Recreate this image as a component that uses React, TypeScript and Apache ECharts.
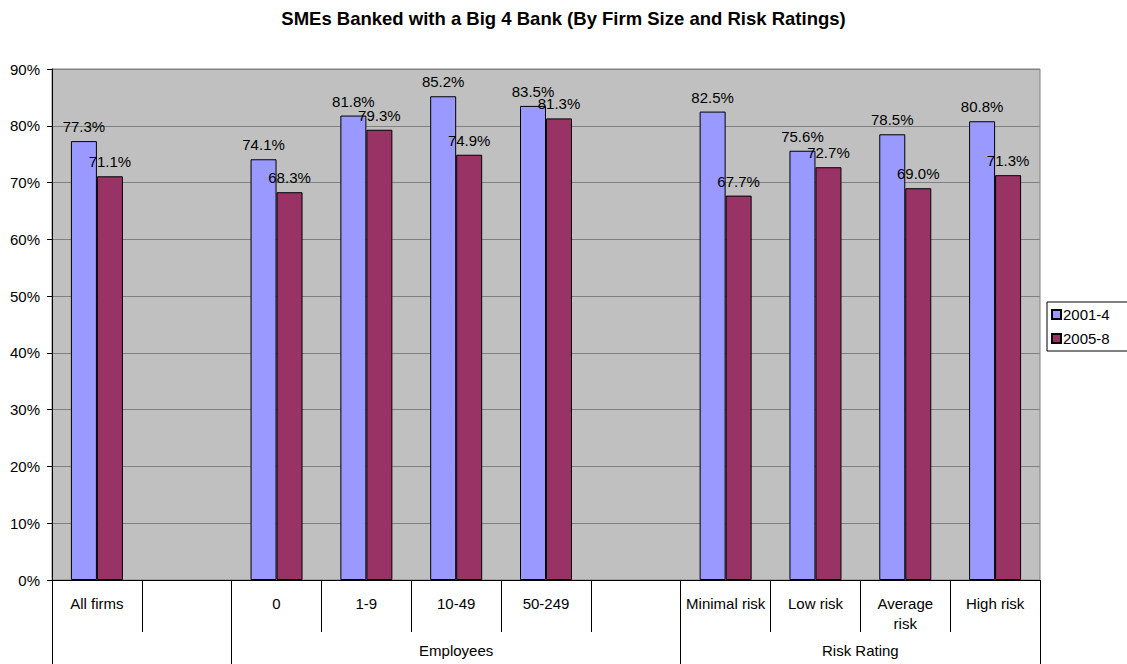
import React, { useEffect, useRef } from "react";
import * as echarts from "echarts";

const categories = ["All firms", "", "0", "1-9", "10-49", "50-249", "", "Minimal risk", "Low risk", "Average risk", "High risk"];
const series2001 = [77.3, null, 74.1, 81.8, 85.2, 83.5, null, 82.5, 75.6, 78.5, 80.8];
const series2005 = [71.1, null, 68.3, 79.3, 74.9, 81.3, null, 67.7, 72.7, 69.0, 71.3];
const groupNames = ["Employees", "Risk Rating"];
const groupCenters = [4.5, 9];
const groupBounds = [0, 2, 7, 11];
const yTicks = [0, 10, 20, 30, 40, 50, 60, 70, 80, 90];

const FONT = "'Liberation Sans', Arial, sans-serif";
const FS = 15;

export default function App() {
  const ref = useRef<HTMLDivElement>(null);
  useEffect(() => {
    const chart = echarts.init(ref.current!, null, { renderer: "svg" });
    const labelCfg = {
      show: true,
      position: "top",
      distance: 7,
      color: "#000",
      fontSize: FS,
      fontFamily: FONT,
      formatter: (p: any) => p.value.toFixed(1) + "%",
    };
    chart.setOption({
      animation: false,
      textStyle: { fontFamily: FONT },
      title: {
        text: "SMEs Banked with a Big 4 Bank (By Firm Size and Risk Ratings)",
        left: "center",
        top: 4,
        textStyle: { fontSize: 18.5, fontWeight: "bold", color: "#000", fontFamily: FONT },
      },
      legend: {
        orient: "vertical",
        left: 1047,
        top: 302,
        padding: [5, 20, 5, 4],
        itemGap: 9,
        itemWidth: 9,
        itemHeight: 9,
        icon: "rect",
        borderColor: "#000",
        borderWidth: 1,
        textStyle: { fontSize: FS, color: "#000", fontFamily: FONT, padding: [0, 0, 0, -3] },
        data: ["2001-4", "2005-8"],
      },
      grid: {
        left: 52,
        right: 87,
        top: 69,
        bottom: 84,
        show: true,
        backgroundColor: "#C0C0C0",
        borderColor: "#808080",
        borderWidth: 1,
      },
      xAxis: [
        {
          type: "category",
          data: categories,
          boundaryGap: true,
          axisLine: { lineStyle: { color: "#000", width: 1 } },
          axisTick: { show: true, interval: 0, length: 52, lineStyle: { color: "#000" } },
          axisLabel: {
            interval: 0,
            margin: 13,
            color: "#000",
            fontSize: FS,
            lineHeight: 20,
            fontFamily: FONT,
            formatter: (v: string) => (v === "Average risk" ? "Average\nrisk" : v),
          },
        },
        {
          type: "value",
          min: 0,
          max: 11,
          position: "bottom",
          axisLine: { show: false },
          splitLine: { show: false },
          axisTick: { show: true, length: 84, customValues: groupBounds, lineStyle: { color: "#000" } },
          axisLabel: {
            customValues: groupCenters,
            margin: 63,
            color: "#000",
            fontSize: FS,
            fontFamily: FONT,
            formatter: (v: number) => {
              const i = groupCenters.indexOf(v);
              return i >= 0 ? groupNames[i] : "";
            },
          },
        },
      ],
      yAxis: {
        type: "value",
        min: 0,
        max: 90,
        interval: 10,
        axisLine: { show: true, lineStyle: { color: "#000" } },
        axisTick: { show: true, length: 5, lineStyle: { color: "#000" } },
        axisLabel: {
          margin: 12,
          color: "#000",
          fontSize: FS,
          fontFamily: FONT,
          customValues: yTicks,
          formatter: "{value}%",
        },
        splitLine: { lineStyle: { color: "#808080", width: 1 } },
      },
      series: [
        {
          name: "2001-4",
          type: "bar",
          data: series2001,
          barWidth: 26,
          barGap: "0%",
          itemStyle: { color: "#9999FF", borderColor: "#000", borderWidth: 1 },
          label: labelCfg,
        },
        {
          name: "2005-8",
          type: "bar",
          data: series2005,
          barWidth: 26,
          barGap: "0%",
          itemStyle: { color: "#993366", borderColor: "#000", borderWidth: 1 },
          label: labelCfg,
        },
      ],
    });
    return () => chart.dispose();
  }, []);
  return <div ref={ref} style={{ width: 1127, height: 664, position: "absolute", left: 0, top: 0 }} />;
}
